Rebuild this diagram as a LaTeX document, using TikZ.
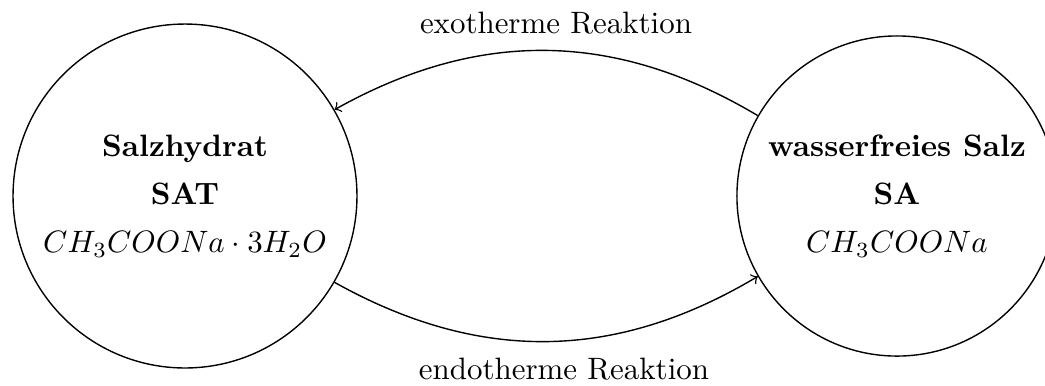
\documentclass[tikz,border=0pt]{standalone}
\begin{document}
\begin{tikzpicture}[x=0.3233pt,y=-0.3233pt,
  state/.style={draw, circle, inner sep=0pt, align=center, line width=0.45pt},
  rxn/.style={->, line width=0.45pt},
  lbl/.style={anchor=base, inner sep=0pt}]
\useasboundingbox (0,0) rectangle (1045,385);
\node[state, minimum size=111.2pt] (SAT) at (185,196) {\textbf{Salzhydrat}\\[3.5pt] \textbf{SAT}\\[3.5pt] $CH_3COONa\cdot 3H_2O$};
\node[state, minimum size=103.5pt] (SA) at (897,196) {\textbf{wasserfreies Salz}\\[3.5pt] \textbf{SA}\\[3.5pt] $CH_3COONa$};
\draw[rxn] (SA) to[bend right=30] (SAT);
\draw[rxn] (SAT) to[bend right=30] (SA);
\node[lbl] (exo) at (556,33) {exotherme Reaktion};
\node[lbl] (endo) at (564,379) {endotherme Reaktion};
\end{tikzpicture}
\end{document}
